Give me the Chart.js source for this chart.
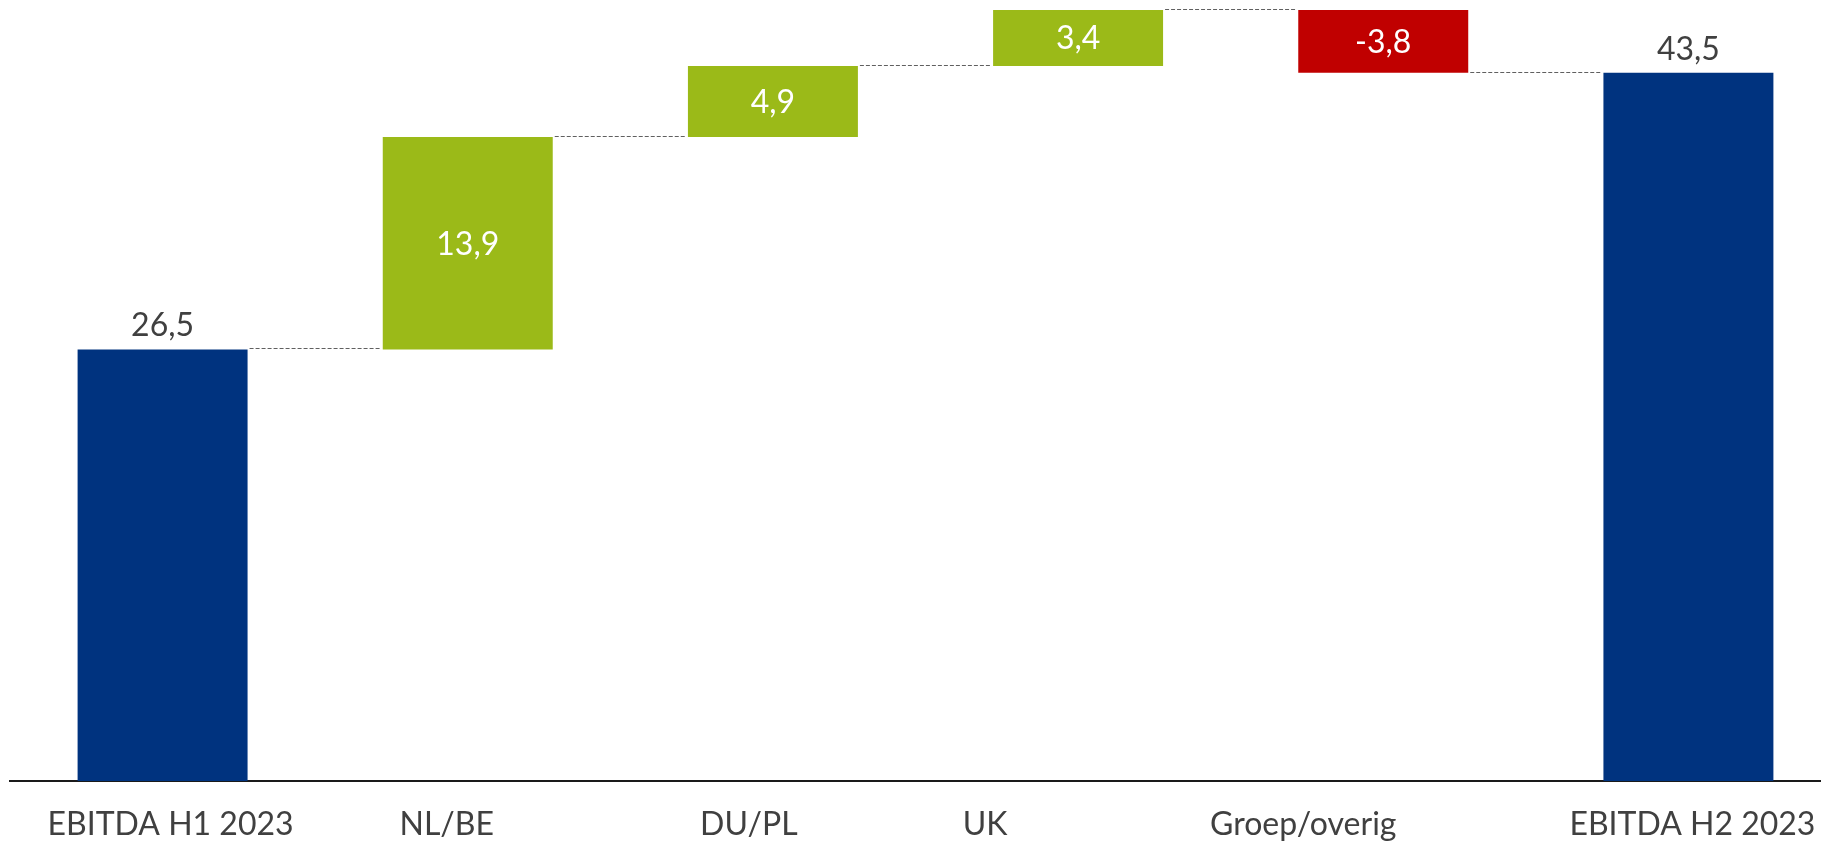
<!DOCTYPE html>
<html>
<head>
<meta charset="utf-8">
<script src="https://cdn.jsdelivr.net/npm/chart.js@4/dist/chart.umd.min.js"></script>
<style>
  html, body { margin: 0; padding: 0; background: #fff; overflow: hidden; }
  #wrap { position: absolute; left: 0; top: 0; width: 1841px; height: 843px; }
</style>
</head>
<body>
<div id="wrap"><canvas id="grafico"></canvas></div>
<script>
// categorieen en waarden
const categorieen = ["EBITDA H1 2023", "NL/BE", "DU/PL", "UK", "Groep/overig", "EBITDA H2 2023"];
const barStart = [0, 26.5, 39.55, 43.9, 47.35, 0];
const barEind = [26.5, 39.55, 43.9, 47.35, 43.5, 43.5];
const labels = ["26,5", "13,9", "4,9", "3,4", "-3,8", "43,5"];
const totaal = [true, false, false, false, false, true];

// verschuiving van de as-teksten t.o.v. het midden van de balk (zoals in de dia)
const asTekstVerschuiving = [8, -21, -24, -93, -80, 4];

const kleuren = barStart.map((s, i) => {
  if (totaal[i]) return "#00337F";
  return barEind[i] >= s ? "#9BBA18" : "#C00000";
});

const FONT = "Lato";

const waterfallPlugin = {
  id: "waterfall",
  afterDatasetsDraw(chart) {
    const ctx = chart.ctx;
    const meta = chart.getDatasetMeta(0);
    const y = chart.scales.y;
    const bars = meta.data;

    // stippellijnen tussen de balken
    ctx.save();
    ctx.strokeStyle = "#606060";
    ctx.lineWidth = 1;
    ctx.setLineDash([4, 2]);
    for (let i = 0; i < bars.length - 1; i++) {
      const a = bars[i], b = bars[i + 1];
      const py = Math.round(y.getPixelForValue(barEind[i])) - 0.5;
      ctx.beginPath();
      ctx.moveTo(a.x + a.width / 2 + 2, py);
      ctx.lineTo(b.x - b.width / 2 - 2, py);
      ctx.stroke();
    }
    ctx.restore();

    // waardelabels
    ctx.save();
    ctx.font = "32px " + FONT;
    ctx.textAlign = "center";
    bars.forEach((bar, i) => {
      const top = Math.min(bar.y, bar.base);
      const bottom = Math.max(bar.y, bar.base);
      if (totaal[i]) {
        ctx.fillStyle = "#404040";
        ctx.textBaseline = "alphabetic";
        ctx.fillText(labels[i], bar.x, top - 13);
      } else {
        ctx.fillStyle = "#FFFFFF";
        ctx.textBaseline = "middle";
        ctx.fillText(labels[i], bar.x, (top + bottom) / 2 + 1);
      }
    });

    // categorie-teksten onder de as
    ctx.fillStyle = "#404040";
    ctx.textBaseline = "alphabetic";
    bars.forEach((bar, i) => {
      ctx.fillText(categorieen[i], bar.x + asTekstVerschuiving[i], chart.chartArea.bottom + 54);
    });
    ctx.restore();
  }
};

new Chart(document.getElementById("grafico"), {
  type: "bar",
  data: {
    labels: categorieen,
    datasets: [{
      data: barStart.map((s, i) => [s, barEind[i]]),
      backgroundColor: kleuren,
      borderWidth: 0,
      barPercentage: 0.557,
      categoryPercentage: 1
    }]
  },
  options: {
    responsive: true,
    maintainAspectRatio: false,
    devicePixelRatio: 1,
    animation: false,
    layout: { padding: { left: 10, right: 0, top: 0, bottom: 0 } },
    plugins: {
      legend: { display: false },
      tooltip: { enabled: false }
    },
    scales: {
      x: {
        grid: { display: false, drawTicks: false },
        border: { display: true, color: "#1A1A1A", width: 2 },
        ticks: { display: false },
        afterFit(scale) { scale.height = 62; }
      },
      y: {
        display: false,
        min: 0,
        max: 47.96
      }
    }
  },
  plugins: [waterfallPlugin]
});
</script>
</body>
</html>
